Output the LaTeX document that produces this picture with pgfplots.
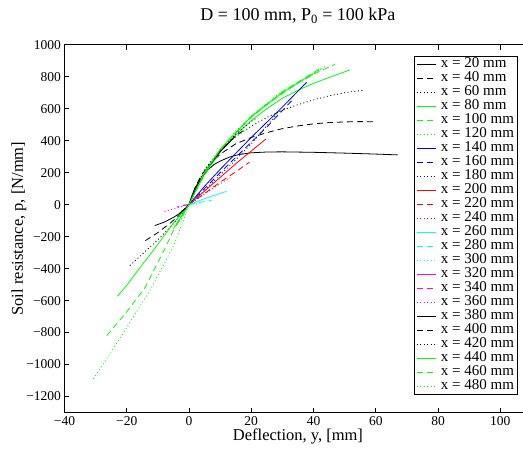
\documentclass[border=0pt]{standalone}
\usepackage{fontspec}
\setmainfont{Liberation Serif}
\usepackage{pgfplots}
\pgfplotsset{compat=1.18}
\definecolor{mgreen}{rgb}{0,1,0}
\definecolor{mblue}{rgb}{0,0,1}
\definecolor{mred}{rgb}{1,0,0}
\definecolor{mcyan}{rgb}{0,1,1}
\definecolor{mmag}{rgb}{1,0,1}
\tikzset{mdash/.style={dash pattern=on 6pt off 4pt}, mdot/.style={dash pattern=on 1pt off 2.5pt}}
\begin{document}
\begin{tikzpicture}
\begin{axis}[
  scale only axis,
  width=467.1pt, height=368pt,
  xmin=-40, xmax=110, ymin=-1300, ymax=1000,
  xtick={-40,-20,0,20,40,60,80,100},
  xticklabels={−40,−20,0,20,40,60,80,100},
  ytick={-1200,-1000,-800,-600,-400,-200,0,200,400,600,800,1000},
  yticklabels={−1200,−1000,−800,−600,−400,−200,0,200,400,600,800,1000},
  tick label style={font=\fontsize{13.5}{15}\selectfont},
  major tick length=5pt,
  axis line style={line width=0.8pt},
  every tick/.style={black, line width=0.8pt},
  title={D = 100 mm, P\textsubscript{0} = 100 kPa},
  title style={font=\fontsize{18}{20}\selectfont, at={(0.5,1)}, anchor=center, yshift=23pt},
  xlabel={Deflection, y, [mm]},
  xlabel style={font=\fontsize{16.5}{18}\selectfont, at={(rel axis cs:0.5,-0.066)}, anchor=center},
  ylabel={Soil resistance, p, [N/mm]},
  ylabel style={font=\fontsize{16.5}{18}\selectfont, at={(rel axis cs:-0.0974,0.5)}, anchor=center, rotate=0},
  legend style={at={(0.748,0.969)}, anchor=north west, draw=black, line width=0.8pt,
    font=\fontsize{15}{17}\selectfont, row sep=0pt, column sep=3.5pt, inner xsep=2pt, inner ysep=1pt,
    nodes={font=\fontsize{15}{17}\selectfont, inner sep=1.5pt, text height=8.5pt, text depth=2.5pt}},
  legend cell align=left,
  legend image code/.code={\draw[#1, line width=0.8pt] (4pt,0pt) -- (23pt,0pt);},
  every axis plot/.append style={line width=0.8pt},
]
\coordinate (ll) at (rel axis cs:0,0);
\coordinate (ur) at (axis cs:107.3,1000);
% 20
\addplot[black, solid] coordinates {(-11,-131) (-8,-110) (-5,-80) (-3,-55) (-1,-25) (0,0) (1,60) (2,105) (4,170) (6,215) (8,250) (10,272) (13,297) (16,313) (20,324) (25,329) (30,330) (40,327) (50,322) (60,316) (67,311)};
\addlegendentry{x = 20 mm}
% 40
\addplot[black, mdash] coordinates {(-14,-225) (-10,-175) (-6,-115) (-3,-65) (-1,-25) (0,0) (2,110) (4,185) (7,260) (10,315) (15,380) (20,420) (25,450) (30,475) (35,492) (40,505) (45,513) (50,517) (55,519) (60,518)};
\addlegendentry{x = 40 mm}
% 60
\addplot[black, mdot] coordinates {(-19,-381) (-15,-310) (-10,-220) (-6,-140) (-3,-75) (-1,-28) (0,0) (2,100) (5,220) (10,340) (15,425) (20,490) (25,545) (30,590) (35,625) (40,655) (45,680) (50,700) (56,715)};
\addlegendentry{x = 60 mm}
% 80
\addplot[mgreen, solid] coordinates {(-23,-573) (-20,-505) (-16,-400) (-12,-300) (-8,-195) (-5,-115) (-3,-70) (-1,-25) (0,0) (2,85) (5,190) (10,330) (15,435) (20,525) (25,600) (30,665) (35,715) (40,758) (45,795) (51.7,842)};
\addlegendentry{x = 80 mm}
% 100
\addplot[mgreen, mdash] coordinates {(-26.4,-819) (-20,-670) (-14,-515) (-8,-285) (-4.5,-142) (-2,-60) (0,0) (2,80) (5,185) (10,335) (15,450) (20,545) (25,625) (30,695) (35,760) (40,815) (47,879)};
\addlegendentry{x = 100 mm}
% 120
\addplot[mgreen, mdot] coordinates {(-30.7,-1090) (-22,-830) (-12.5,-535) (-5,-260) (-2,-110) (0,0) (2,90) (5,200) (10,345) (15,460) (20,550) (25,630) (30,700) (35,760) (43,855)};
\addlegendentry{x = 120 mm}
% 140
\addplot[mblue, solid] coordinates {(0,0) (5,115) (10,220) (15,320) (20,420) (25,515) (30,610) (37.8,765)};
\addlegendentry{x = 140 mm}
% 160
\addplot[mblue, mdash] coordinates {(0,0) (5,100) (10,200) (15,295) (20,390) (25,485) (33.5,660)};
\addlegendentry{x = 160 mm}
% 180
\addplot[mblue, mdot] coordinates {(0,0) (5,90) (10,185) (15,280) (20,380) (29.2,588)};
\addlegendentry{x = 180 mm}
% 200
\addplot[mred, solid] coordinates {(0,0) (5,85) (10,170) (15,255) (20,335) (24.7,410)};
\addlegendentry{x = 200 mm}
% 220
\addplot[mred, mdash] coordinates {(0,0) (5,70) (10,140) (15,205) (19.4,265)};
\addlegendentry{x = 220 mm}
% 240
\addplot[mred, mdot] coordinates {(0,0) (5,65) (10,130) (13.2,171)};
\addlegendentry{x = 240 mm}
% 260
\addplot[mcyan, solid] coordinates {(0,0) (4,30) (8,57) (12.1,83)};
\addlegendentry{x = 260 mm}
% 280
\addplot[mcyan, mdash] coordinates {(0,0) (3,12) (7.3,28)};
\addlegendentry{x = 280 mm}
% 300
\addplot[mcyan, mdot] coordinates {(0,0) (2,5) (4,10)};
\addlegendentry{x = 300 mm}
% 320
\addplot[mmag, solid] coordinates {(0,0) (-1,-2) (-2,-5)};
\addlegendentry{x = 320 mm}
% 340
\addplot[mmag, mdash] coordinates {(0,0) (-2,-7) (-4,-15)};
\addlegendentry{x = 340 mm}
% 360
\addplot[mmag, mdot] coordinates {(0,0) (-4,-20) (-8,-45)};
\addlegendentry{x = 360 mm}
% 380
\addplot[black, solid] coordinates {(-2,-40) (0,0) (3,130) (6,230) (10,330) (14,410)};
\addlegendentry{x = 380 mm}
% 400
\addplot[black, mdash] coordinates {(-3,-55) (0,0) (3,130) (6,230) (10,335) (15,430) (18,470)};
\addlegendentry{x = 400 mm}
% 420
\addplot[black, mdot] coordinates {(-4,-70) (0,0) (5,200) (10,340) (15,440) (20,520) (22,545)};
\addlegendentry{x = 420 mm}
% 440
\addplot[mgreen, solid] coordinates {(-5,-150) (0,0) (5,200) (10,345) (20,550) (30,700) (40,820)};
\addlegendentry{x = 440 mm}
% 460
\addplot[mgreen, mdash] coordinates {(-4,-130) (0,0) (5,200) (10,345) (20,550) (30,705) (42,850)};
\addlegendentry{x = 460 mm}
% 480
\addplot[mgreen, mdot] coordinates {(-3,-110) (0,0) (5,200) (10,345) (20,555) (30,710) (44,865)};
\addlegendentry{x = 480 mm}
\end{axis}
\pgfresetboundingbox
\path[use as bounding box] ([xshift=-64.5pt,yshift=-36.3pt]ll) rectangle ([yshift=44.7pt]ur);
\end{tikzpicture}
\end{document}
